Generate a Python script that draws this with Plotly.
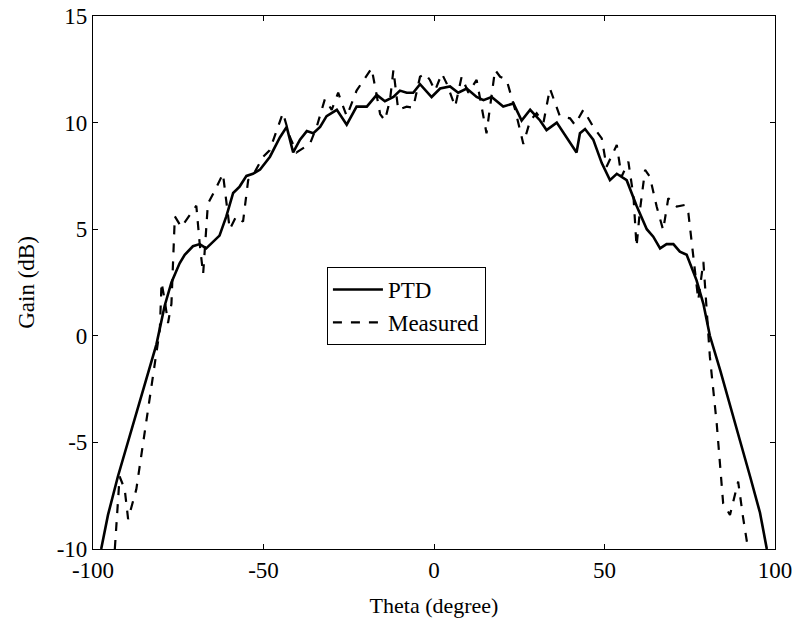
import plotly.graph_objects as go

ptd_theta = [-97.6, -95.6, -92.7, -89.2, -85.3, -81.4, -79.0, -77.0, -74.6, -73.1, -70.7, -68.7, -66.8, -64.8,
             -62.9, -60.9, -58.9, -57.0, -55.0, -53.1, -51.0, -48.1, -45.2, -43.2, -41.3, -39.3, -37.3, -35.4,
             -33.4, -31.5, -28.5, -25.6, -22.7, -19.7, -16.8, -14.4, -11.9, -10.0, -8.0, -6.1, -4.1, -0.7,
             1.8, 4.7, 7.1, 9.6, 12.5, 14.5, 16.9, 20.3, 23.3, 25.7, 28.2, 31.1, 33.0, 36.0, 38.9, 41.8,
             42.8, 44.3, 46.7, 49.2, 51.6, 53.6, 56.5, 59.4, 62.4, 64.3, 66.3, 68.2, 70.2, 72.1, 74.1, 77.0,
             79.0, 80.9, 83.9, 86.8, 89.7, 92.7, 95.6, 97.6]
ptd_gain = [-10.0, -8.4, -6.6, -4.7, -2.5, -0.4, 1.4, 2.5, 3.4, 3.8, 4.2, 4.3, 4.1, 4.4,
            4.7, 5.6, 6.7, 7.0, 7.5, 7.6, 7.8, 8.4, 9.3, 9.8, 8.6, 9.2, 9.6, 9.5,
            9.8, 10.3, 10.6, 9.9, 10.75, 10.75, 11.3, 11.0, 11.2, 11.5, 11.4, 11.4, 11.8, 11.2,
            11.6, 11.7, 11.4, 11.6, 11.2, 11.05, 11.2, 10.75, 10.9, 10.1, 10.6, 10.1, 9.65, 10.0, 9.3, 8.6,
            9.5, 9.7, 9.2, 8.1, 7.3, 7.6, 7.3, 6.1, 5.0, 4.65, 4.1, 4.3, 4.3, 3.95, 3.8, 2.6,
            1.5, 0.0, -1.6, -3.3, -4.9, -6.6, -8.3, -10.0]

meas_theta = [-93.6, -92.2, -90.7, -89.7, -87.3, -84.4, -81.4, -80.4, -79.9, -79.0, -78.0, -77.0, -76.0,
              -74.1, -69.7, -68.7, -67.7, -66.3, -64.3, -61.9, -59.9, -58.0, -56.0, -54.5, -52.5, -50.1,
              -48.2, -44.3, -42.2, -40.3, -36.4, -34.4, -32.0, -30.0, -28.1, -25.6, -22.7, -18.3, -17.3,
              -15.8, -14.4, -12.9, -11.9, -10.5, -8.0, -6.1, -4.1, -2.6, -1.2, 0.3, 2.3, 3.7, 6.2, 8.1,
              10.1, 12.5, 15.4, 17.9, 19.4, 21.3, 23.8, 26.2, 28.2, 30.1, 32.1, 34.0, 36.9, 39.9, 41.3,
              43.8, 46.7, 49.2, 50.6, 53.6, 55.0, 57.0, 58.5, 59.4, 60.4, 61.9, 63.3, 65.3, 67.2, 68.7,
              71.2, 73.6, 74.6, 76.0, 77.5, 79.0, 80.0, 80.9, 82.9, 84.8, 86.8, 89.2, 90.6, 92.1]
meas_gain = [-10.0, -6.6, -7.2, -8.6, -7.2, -4.1, -1.0, 0.3, 2.5, 1.7, 0.6, 1.5, 5.6,
             5.1, 6.1, 4.3, 2.9, 6.2, 6.8, 7.6, 5.0, 5.6, 5.35, 7.3, 7.7, 8.4,
             8.7, 10.45, 9.3, 8.6, 9.0, 9.8, 11.1, 10.6, 11.4, 10.3, 11.5, 12.55, 11.7,
             10.4, 10.1, 11.06, 12.47, 10.6, 10.75, 10.7, 12.15, 12.3, 12.0, 11.5, 12.3, 11.84, 10.75, 12.15,
             11.4, 12.0, 9.5, 12.47, 12.15, 12.0, 10.6, 9.0, 10.1, 10.44, 10.0, 11.6, 10.3, 10.2, 9.9,
             10.6, 9.8, 9.26, 7.93, 8.95, 7.46, 8.17, 6.52, 4.18, 5.9, 7.78, 7.46, 6.06, 4.96, 6.45,
             6.06, 6.14, 5.75, 3.71, 1.68, 3.47, 1.37, -0.98, -4.1, -7.86, -8.4, -6.84, -8.48, -10.0]

x_ticks = [-100, -50, 0, 50, 100]
x_tick_labels = ["-100", "-50", "0", "50", "100"]
y_ticks = [-10, -5, 0, 5, 10, 15]
y_tick_labels = ["-10", "-5", "0", "5", "10", "15"]

font_family = "Liberation Serif, Times New Roman, serif"

fig = go.Figure()
fig.add_trace(go.Scatter(x=ptd_theta, y=ptd_gain, mode="lines", name="PTD",
                         line=dict(color="black", width=2.6, dash="solid")))
fig.add_trace(go.Scatter(x=meas_theta, y=meas_gain, mode="lines", name="Measured",
                         line=dict(color="black", width=2.2, dash="dash")))

axis_common = dict(showgrid=False, zeroline=False, showline=True, linecolor="black", linewidth=1.2,
                   mirror="ticks", ticks="inside", ticklen=5, tickcolor="black", automargin=False,
                   tickfont=dict(family=font_family, size=23, color="black"))

fig.update_layout(
    width=800, height=620,
    margin=dict(l=93, r=25, t=16, b=71),
    paper_bgcolor="white", plot_bgcolor="white",
    font=dict(family=font_family, size=22, color="black"),
    xaxis=dict(range=[-100, 100], tickvals=x_ticks, ticktext=x_tick_labels,
               title=dict(text="Theta (degree)", font=dict(family=font_family, size=22)),
               **axis_common),
    yaxis=dict(range=[-10, 15], tickvals=y_ticks, ticktext=y_tick_labels,
               title=dict(text="Gain (dB)", font=dict(family=font_family, size=23)),
               **axis_common),
    legend=dict(x=0.343, y=0.529, xanchor="left", yanchor="top",
                bgcolor="white", bordercolor="black", borderwidth=1,
                font=dict(family=font_family, size=23, color="black"),
                itemwidth=50, tracegroupgap=2),
    showlegend=True,
)

fig.write_html("out.html", config={"displayModeBar": False},
               post_script="document.body.style.margin='0';")
